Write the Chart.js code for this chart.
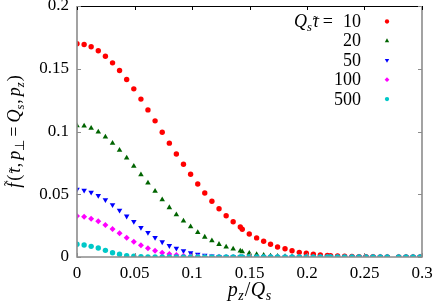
<!DOCTYPE html>
<html>
<head>
<meta charset="utf-8">
<script src="https://cdn.jsdelivr.net/npm/chart.js@4/dist/chart.umd.min.js"></script>
<style>
  html, body { margin: 0; padding: 0; background: #fff; }
  canvas { display: block; }
</style>
</head>
<body>
<canvas id="myChart" width="436" height="303"></canvas>
<script>
// p_z / Q_s grid
const pz = [0, 0.0062, 0.0123, 0.0185, 0.0247, 0.0309, 0.0370, 0.0432, 0.0494, 0.0556,
  0.0617, 0.0679, 0.0741, 0.0803, 0.0864, 0.0926, 0.0988, 0.1050, 0.1111, 0.1173,
  0.1235, 0.1297, 0.1358, 0.1420, 0.1437, 0.1498, 0.1562, 0.1623, 0.1683, 0.1744,
  0.1809, 0.1870, 0.1933, 0.1994, 0.2055, 0.2116, 0.2177, 0.2205, 0.2266, 0.2327,
  0.2391, 0.2452, 0.2513, 0.2574, 0.2637, 0.2698, 0.2797, 0.2861, 0.2922, 0.2983];

const tauLabels = ['10', '20', '50', '100', '500'];

const f10 = [0.1699, 0.1693, 0.1675, 0.1643, 0.1600, 0.1547, 0.1486, 0.1414, 0.1340, 0.1258,
  0.1172, 0.1085, 0.0994, 0.0907, 0.0821, 0.0739, 0.0659, 0.0582, 0.0510, 0.0444,
  0.0385, 0.0329, 0.0281, 0.0239, 0.0221, 0.0183, 0.0152, 0.0125, 0.0101, 0.0080,
  0.0066, 0.0050, 0.0037, 0.0030, 0.0022, 0.0016, 0.0012, 0.0011, 0.0008, 0.0006,
  0.0004, 0.0003, 0.0002, 0.00015, 0.0001, 0.00008, 0.00005, 0.00003, 0.00002, 0.00001];
const f20 = [0.1047, 0.1045, 0.1026, 0.0997, 0.0957, 0.0907, 0.0851, 0.0789, 0.0723, 0.0656,
  0.0590, 0.0524, 0.0457, 0.0394, 0.0338, 0.0287, 0.0242, 0.0196, 0.0159, 0.0130,
  0.0101, 0.0080, 0.0064, 0.0048, 0.0042, 0.0030, 0.0020, 0.0014, 0.0009, 0.0006,
  0.0004, 0.0003, 0.0002, 0.0001, 0.0001, 0, 0, 0, 0, 0,
  0, 0, 0, 0, 0, 0, 0, 0, 0, 0];
const f50 = [0.0540, 0.0532, 0.0516, 0.0489, 0.0455, 0.0415, 0.0372, 0.0325, 0.0282, 0.0234,
  0.0194, 0.0154, 0.0120, 0.0090, 0.0069, 0.0049, 0.0033, 0.0022, 0.0014, 0.0007,
  0.0003, 0.0002, 0.0001, 0.0001, 0, 0, 0, 0, 0, 0,
  0, 0, 0, 0, 0, 0, 0, 0, 0, 0,
  0, 0, 0, 0, 0, 0, 0, 0, 0, 0];
const f100 = [0.0327, 0.0321, 0.0305, 0.0285, 0.0255, 0.0223, 0.0189, 0.0154, 0.0122, 0.0093,
  0.0069, 0.0050, 0.0034, 0.0024, 0.0016, 0.0010, 0.0006, 0.0004, 0.0002, 0.0001,
  0.0001, 0, 0, 0, 0, 0, 0, 0, 0, 0,
  0, 0, 0, 0, 0, 0, 0, 0, 0, 0,
  0, 0, 0, 0, 0, 0, 0, 0, 0, 0];
const f500 = [0.0101, 0.0096, 0.0085, 0.0072, 0.0053, 0.0034, 0.0022, 0.0010, 0.0006, 0.0003,
  0.0001, 0, 0, 0, 0, 0, 0, 0, 0, 0,
  0, 0, 0, 0, 0, 0, 0, 0, 0, 0,
  0, 0, 0, 0, 0, 0, 0, 0, 0, 0,
  0, 0, 0, 0, 0, 0, 0, 0, 0, 0];

const serif = '"Liberation Serif"';
Chart.defaults.font.family = serif;
Chart.defaults.font.size = 17;
Chart.defaults.color = '#000';

const styles = [
  { color: '#ff0000', pointStyle: 'circle', radius: 2.7, rotation: 0 },
  { color: '#006400', pointStyle: 'triangle', radius: 3.2, rotation: 0 },
  { color: '#0000ff', pointStyle: 'triangle', radius: 3.2, rotation: 180 },
  { color: '#ff00ff', pointStyle: 'rectRot', radius: 3, rotation: 0 },
  { color: '#00c8c8', pointStyle: 'circle', radius: 2.7, rotation: 0 }
];

const series = [f10, f20, f50, f100, f500];

const datasets = series.map((vals, i) => ({
  label: tauLabels[i],
  data: pz.map((x, j) => ({ x: x, y: vals[j] })),
  backgroundColor: styles[i].color,
  borderColor: styles[i].color,
  borderWidth: 0,
  pointStyle: styles[i].pointStyle,
  pointRadius: styles[i].radius,
  rotation: styles[i].rotation,
  order: series.length - i,
  showLine: false
}));

// draws a row of math runs, returns width
function mathRuns(ctx, runs, x, y, size, measureOnly) {
  let cx = x;
  runs.forEach(r => {
    const s = r.sub ? size * 0.7 : size;
    ctx.font = (r.it ? 'italic ' : '') + s + 'px ' + serif;
    const w = ctx.measureText(r.t).width;
    const dy = r.sub ? size * 0.22 : 0;
    if (!measureOnly) {
      ctx.fillText(r.t, cx, y + dy);
      if (r.tilde) {
        ctx.font = (size * 0.8) + 'px ' + serif;
        ctx.textAlign = 'center';
        ctx.fillText('\u02dc', cx + w / 2 + (r.tildeShift || 0), y - (r.tildeUp || 0));
        ctx.textAlign = 'left';
      }
    }
    cx += w + (r.gap || 0);
  });
  return cx - x;
}

const decorations = {
  id: 'decorations',
  afterDraw(chart) {
    const ctx = chart.ctx;
    const a = chart.chartArea;
    const xs = chart.scales.x, ys = chart.scales.y;
    ctx.save();

    // frame
    ctx.lineWidth = 1.6;
    ctx.strokeStyle = '#8c8c8c';
    ctx.beginPath();
    ctx.moveTo(a.left, a.top);
    ctx.lineTo(a.left, a.bottom);
    ctx.lineTo(a.right, a.bottom);
    ctx.lineTo(a.right, a.top);
    ctx.stroke();
    ctx.lineWidth = 1;
    ctx.strokeStyle = '#000';
    ctx.beginPath();
    ctx.moveTo(a.left, a.top + 0.5);
    ctx.lineTo(a.right, a.top + 0.5);
    ctx.stroke();

    // inward ticks
    xs.ticks.forEach(t => {
      const px = Math.round(xs.getPixelForValue(t.value)) + 0.5;
      ctx.strokeStyle = '#8c8c8c';
      ctx.beginPath(); ctx.moveTo(px, a.bottom); ctx.lineTo(px, a.bottom - 4); ctx.stroke();
      ctx.strokeStyle = '#000';
      ctx.beginPath(); ctx.moveTo(px, a.top); ctx.lineTo(px, a.top + 4); ctx.stroke();
    });
    ctx.strokeStyle = '#8c8c8c';
    ys.ticks.forEach(t => {
      const py = Math.round(ys.getPixelForValue(t.value)) + 0.5;
      ctx.beginPath(); ctx.moveTo(a.left, py); ctx.lineTo(a.left + 4, py); ctx.stroke();
      ctx.beginPath(); ctx.moveTo(a.right, py); ctx.lineTo(a.right - 4, py); ctx.stroke();
    });

    ctx.fillStyle = '#000';
    ctx.textBaseline = 'alphabetic';
    ctx.textAlign = 'left';

    // x title
    const xRuns = [
      { t: 'p', it: true, gap: 0.5 }, { t: 'z', it: true, sub: true, gap: 1 },
      { t: '/', gap: 0.5 }, { t: 'Q', it: true, gap: 0.5 }, { t: 's', it: true, sub: true }
    ];
    const xw = mathRuns(ctx, xRuns, 0, 0, 20, true);
    mathRuns(ctx, xRuns, (a.left + a.right) / 2 - xw / 2, 296, 20);

    // y title
    const yRuns = [
      { t: 'f', it: true, gap: 2, tilde: true, tildeUp: 6, tildeShift: 1.5 },
      { t: '(', gap: 1 }, { t: '\u03c4', it: true, tilde: true, tildeUp: 1 },
      { t: ',', gap: 3 }, { t: 'p', it: true }, { t: '\u22a5', sub: true, gap: 3 },
      { t: '=', gap: 4 }, { t: 'Q', it: true }, { t: 's', it: true, sub: true, gap: 1 },
      { t: ',', gap: 3 }, { t: 'p', it: true }, { t: 'z', it: true, sub: true, gap: 1 },
      { t: ')' }
    ];
    const yw = mathRuns(ctx, yRuns, 0, 0, 18, true);
    ctx.save();
    ctx.translate(20, (a.top + a.bottom) / 2);
    ctx.rotate(-Math.PI / 2);
    mathRuns(ctx, yRuns, -yw / 2, 0, 18);
    ctx.restore();

    // key
    const rowY = i => 27 + 19.4 * i;
    const prefix = [
      { t: 'Q', it: true }, { t: 's', it: true, sub: true, gap: 0.5 },
      { t: '\u03c4', it: true, tilde: true, tildeUp: 1, gap: 4 }, { t: '=' }
    ];
    const pw = mathRuns(ctx, prefix, 0, 0, 18, true);
    mathRuns(ctx, prefix, 333 - pw, rowY(0), 18);
    chart.data.datasets.forEach((ds, i) => {
      ctx.font = '18px ' + serif;
      ctx.textAlign = 'right';
      ctx.fillStyle = '#000';
      ctx.fillText(ds.label, 361, rowY(i));
      ctx.textAlign = 'left';
      ctx.fillStyle = ds.backgroundColor;
      Chart.helpers.drawPoint(ctx, {
        pointStyle: ds.pointStyle, radius: ds.pointRadius * 0.8, rotation: ds.rotation, borderWidth: 0
      }, 387, rowY(i) - 5.5);
    });

    ctx.restore();
  }
};

function build() {
  let ctx = document.getElementById('myChart').getContext('2d');
  let myChart = new Chart(ctx, {
    type: 'scatter',
    data: { datasets: datasets },
    options: {
      responsive: false,
      animation: false,
      devicePixelRatio: 1,
      layout: { padding: { left: 0, right: 14, top: 6, bottom: 0 } },
      plugins: {
        legend: { display: false },
        tooltip: { enabled: false }
      },
      scales: {
        x: {
          type: 'linear',
          min: 0,
          max: 0.3,
          grid: { display: false, drawTicks: false },
          border: { display: false },
          ticks: {
            stepSize: 0.05,
            padding: 6,
            color: '#000',
            font: { family: serif, size: 17, style: 'normal' },
            callback: v => String(+v.toFixed(2))
          },
          afterFit: s => { s.height = 46; s.paddingLeft = 0; s.paddingRight = 0; }
        },
        y: {
          min: 0,
          max: 0.2,
          grid: { display: false, drawTicks: false },
          border: { display: false },
          ticks: {
            stepSize: 0.05,
            padding: 8,
            color: '#000',
            font: { family: serif, size: 17, style: 'normal' },
            callback: v => String(+v.toFixed(2))
          },
          afterFit: s => { s.width = 77; s.paddingTop = 0; s.paddingBottom = 0; }
        }
      }
    },
    plugins: [decorations]
  });
}

Promise.all([
  document.fonts.load('17px "Liberation Serif"'),
  document.fonts.load('italic 17px "Liberation Serif"')
]).then(build, build);
</script>
</body>
</html>
